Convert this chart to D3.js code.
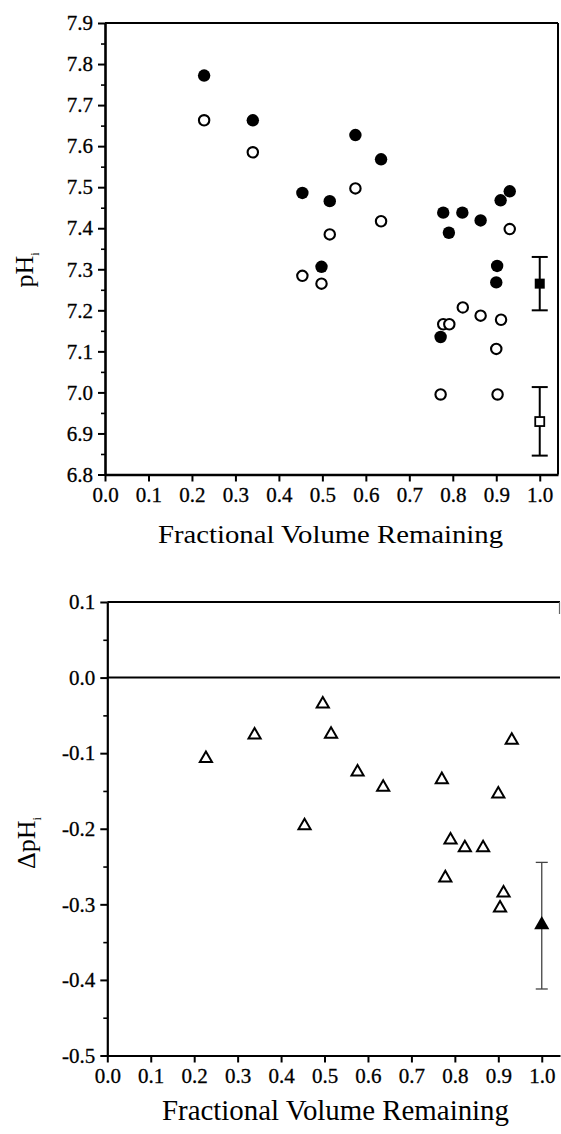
<!DOCTYPE html>
<html><head><meta charset="utf-8">
<script src="https://cdn.jsdelivr.net/npm/d3@7"></script>
<style>
body{margin:0;background:#fff}
svg text{font-family:"Liberation Serif",serif !important;fill:#000}
</style>
</head><body>
<svg id="c" width="561" height="1134" style="background:#fff"></svg>
<script>
// ---------- data ----------
const xTickValues = [0,0.1,0.2,0.3,0.4,0.5,0.6,0.7,0.8,0.9,1.0];
const xTickLabels = ["0.0","0.1","0.2","0.3","0.4","0.5","0.6","0.7","0.8","0.9","1.0"];
const topYTicks = [6.8,6.9,7.0,7.1,7.2,7.3,7.4,7.5,7.6,7.7,7.8,7.9];
const topYLabels = ["6.8","6.9","7.0","7.1","7.2","7.3","7.4","7.5","7.6","7.7","7.8","7.9"];
const topYMinor = [6.85,6.95,7.05,7.15,7.25,7.35,7.45,7.55,7.65,7.75,7.85];
const botYTicks = [-0.5,-0.4,-0.3,-0.2,-0.1,0.0,0.1];
const botYLabels = ["-0.5","-0.4","-0.3","-0.2","-0.1","0.0","0.1"];
const botYMinor = [-0.45,-0.35,-0.25,-0.15,-0.05,0.05];

// pHi, filled circles
const filledX = [0.228,0.340,0.454,0.498,0.517,0.576,0.635,0.772,0.778,0.791,0.822,0.864,0.902,0.900,0.910,0.931];
const filledY = [7.772,7.663,7.486,7.306,7.466,7.627,7.568,7.135,7.438,7.389,7.438,7.419,7.308,7.268,7.468,7.490];
// pHi, open circles
const openX = [0.228,0.340,0.454,0.498,0.517,0.576,0.635,0.772,0.778,0.792,0.823,0.864,0.900,0.903,0.911,0.931];
const openY = [7.663,7.585,7.284,7.265,7.385,7.497,7.417,6.995,7.166,7.166,7.207,7.187,7.106,6.995,7.177,7.398];
// means with error bars at x = 1.0
const meanX = [1.0];
const filledMean = [7.265], filledLo = [7.200], filledHi = [7.330];
const openMean = [6.929], openLo = [6.846], openHi = [7.013];
// delta pHi, open triangles
const deltaX = [0.227,0.339,0.454,0.496,0.515,0.576,0.635,0.770,0.778,0.790,0.823,0.865,0.900,0.904,0.912,0.931];
const deltaY = [-0.107,-0.076,-0.196,-0.035,-0.075,-0.125,-0.145,-0.135,-0.265,-0.215,-0.225,-0.225,-0.154,-0.305,-0.285,-0.083];
const deltaMean = [-0.327], deltaLo = [-0.412], deltaHi = [-0.2445];

// ---------- drawing ----------
const FONT = "Liberation Serif, serif";
const svg = d3.select("#c");
svg.append("rect").attr("width",561).attr("height",1134).attr("fill","#fff");

function styleAxis(g, w){
  g.attr("font-family",FONT).attr("font-size",21);
  g.select(".domain").attr("stroke","#000").attr("stroke-width",w);
  g.selectAll(".tick line").attr("stroke","#000").attr("stroke-width",2);
  g.selectAll(".tick text").attr("font-family",FONT).attr("font-size",21).attr("fill","#000")
    .attr("stroke","#000").attr("stroke-width",0.3);
}

// ===== TOP PANEL =====
const xT = d3.scaleLinear().domain([0,1.042]).range([105,558]);
const yT = d3.scaleLinear().domain([6.8,7.9]).range([474.5,23]);
const gTop = svg.append("g");

// frame top & right
gTop.append("line").attr("x1",xT(0)).attr("x2",xT(1.042)).attr("y1",yT(7.9)).attr("y2",yT(7.9)).attr("stroke","#000").attr("stroke-width",2.2);
gTop.append("line").attr("x1",xT(1.042)).attr("x2",xT(1.042)).attr("y1",yT(7.9)).attr("y2",yT(6.8)).attr("stroke","#000").attr("stroke-width",2);

const gyT = gTop.append("g").attr("transform",`translate(${xT(0)},0)`)
  .call(d3.axisLeft(yT).tickValues(topYTicks).tickFormat((d,i)=>topYLabels[i]).tickSize(7).tickSizeOuter(0).tickPadding(5));
styleAxis(gyT,2.6);
const gyTm = gTop.append("g").attr("transform",`translate(${xT(0)},0)`)
  .call(d3.axisLeft(yT).tickValues(topYMinor).tickFormat("").tickSize(4).tickSizeOuter(0));
gyTm.select(".domain").remove(); gyTm.selectAll("line").attr("stroke","#000").attr("stroke-width",1.6);

const gxT = gTop.append("g").attr("transform",`translate(0,${yT(6.8)})`)
  .call(d3.axisBottom(xT).tickValues(xTickValues).tickFormat((d,i)=>xTickLabels[i]).tickSize(7).tickSizeOuter(0).tickPadding(6));
styleAxis(gxT,2.6);

// error bars
function errBar(g, xs, lo, hi, x, y, cap, w, col){
  xs.forEach((v,i)=>{
    g.append("line").attr("x1",x(v)).attr("x2",x(v)).attr("y1",y(lo[i])).attr("y2",y(hi[i])).attr("stroke",col).attr("stroke-width",w);
    [lo[i],hi[i]].forEach(e=>g.append("line").attr("x1",x(v)-cap/2).attr("x2",x(v)+cap/2).attr("y1",y(e)).attr("y2",y(e)).attr("stroke",col).attr("stroke-width",w));
  });
}
errBar(gTop, meanX, filledLo, filledHi, xT, yT, 16, 2, "#000");
errBar(gTop, meanX, openLo, openHi, xT, yT, 16, 2, "#000");

gTop.selectAll(".fc").data(filledX).enter().append("circle")
  .attr("cx",d=>xT(d)).attr("cy",(d,i)=>yT(filledY[i])).attr("r",6.2).attr("fill","#000");
gTop.selectAll(".oc").data(openX).enter().append("circle")
  .attr("cx",d=>xT(d)).attr("cy",(d,i)=>yT(openY[i])).attr("r",5.2).attr("fill","#fff").attr("stroke","#000").attr("stroke-width",2.1);
gTop.selectAll(".fs").data(meanX).enter().append("rect")
  .attr("x",d=>xT(d)-5).attr("y",(d,i)=>yT(filledMean[i])-5).attr("width",10).attr("height",10).attr("fill","#000");
gTop.selectAll(".os").data(meanX).enter().append("rect")
  .attr("x",d=>xT(d)-4.5).attr("y",(d,i)=>yT(openMean[i])-4.5).attr("width",9).attr("height",9).attr("fill","#fff").attr("stroke","#000").attr("stroke-width",1.8);

// labels
const tl = gTop.append("text").attr("transform","translate(33,270) rotate(-90)").attr("text-anchor","middle")
  .attr("font-family",FONT).attr("font-size",26);
tl.append("tspan").text("pH");
tl.append("tspan").attr("dy",6).attr("font-size",12).text("i");
gTop.append("text").attr("x",158).attr("y",543).attr("font-family",FONT).attr("font-size",26)
  .attr("textLength",345).attr("lengthAdjust","spacingAndGlyphs").text("Fractional Volume Remaining");

// ===== BOTTOM PANEL =====
const xB = d3.scaleLinear().domain([0,1.042]).range([107.3,560]);
const yB = d3.scaleLinear().domain([-0.5,0.1]).range([1055.5,602]);
const gBot = svg.append("g");

gBot.append("line").attr("x1",xB(0)).attr("x2",xB(1.042)).attr("y1",yB(0.1)).attr("y2",yB(0.1)).attr("stroke","#000").attr("stroke-width",2);
gBot.append("line").attr("x1",xB(0)).attr("x2",xB(1.042)).attr("y1",yB(0)).attr("y2",yB(0)).attr("stroke","#000").attr("stroke-width",2);
gBot.append("line").attr("x1",xB(1.042)-0.5).attr("x2",xB(1.042)-0.5).attr("y1",yB(0.1)).attr("y2",yB(0.1)+12).attr("stroke","#666").attr("stroke-width",1.2);

const gyB = gBot.append("g").attr("transform",`translate(${xB(0)},0)`)
  .call(d3.axisLeft(yB).tickValues(botYTicks).tickFormat((d,i)=>botYLabels[i]).tickSize(7).tickSizeOuter(0).tickPadding(5));
styleAxis(gyB,2.2);
const gyBm = gBot.append("g").attr("transform",`translate(${xB(0)},0)`)
  .call(d3.axisLeft(yB).tickValues(botYMinor).tickFormat("").tickSize(4).tickSizeOuter(0));
gyBm.select(".domain").remove(); gyBm.selectAll("line").attr("stroke","#000").attr("stroke-width",1.6);

const gxB = gBot.append("g").attr("transform",`translate(0,${yB(-0.5)})`)
  .call(d3.axisBottom(xB).tickValues(xTickValues).tickFormat((d,i)=>xTickLabels[i]).tickSize(7).tickSizeOuter(0).tickPadding(6));
styleAxis(gxB,2.2);

errBar(gBot, meanX, deltaLo, deltaHi, xB, yB, 12, 1.3, "#444");

const triOpen = d3.symbol(d3.symbolTriangle, 64);
const triFill = d3.symbol(d3.symbolTriangle, 100);
gBot.selectAll(".tr").data(deltaX).enter().append("path")
  .attr("d",triOpen).attr("transform",(d,i)=>`translate(${xB(d)},${yB(deltaY[i])})`)
  .attr("fill","#fff").attr("stroke","#000").attr("stroke-width",2);
gBot.selectAll(".tf").data(meanX).enter().append("path")
  .attr("d",triFill).attr("transform",(d,i)=>`translate(${xB(d)},${yB(deltaMean[i])})`)
  .attr("fill","#000");

const bl = gBot.append("text").attr("transform","translate(35,843) rotate(-90)").attr("text-anchor","middle")
  .attr("font-family",FONT).attr("font-size",26);
bl.append("tspan").text("ΔpH");
bl.append("tspan").attr("dy",6).attr("font-size",12).text("i");
gBot.append("text").attr("x",162).attr("y",1120).attr("font-family",FONT).attr("font-size",29)
  .attr("textLength",347).attr("lengthAdjust","spacingAndGlyphs").text("Fractional Volume Remaining");
</script>
</body></html>
